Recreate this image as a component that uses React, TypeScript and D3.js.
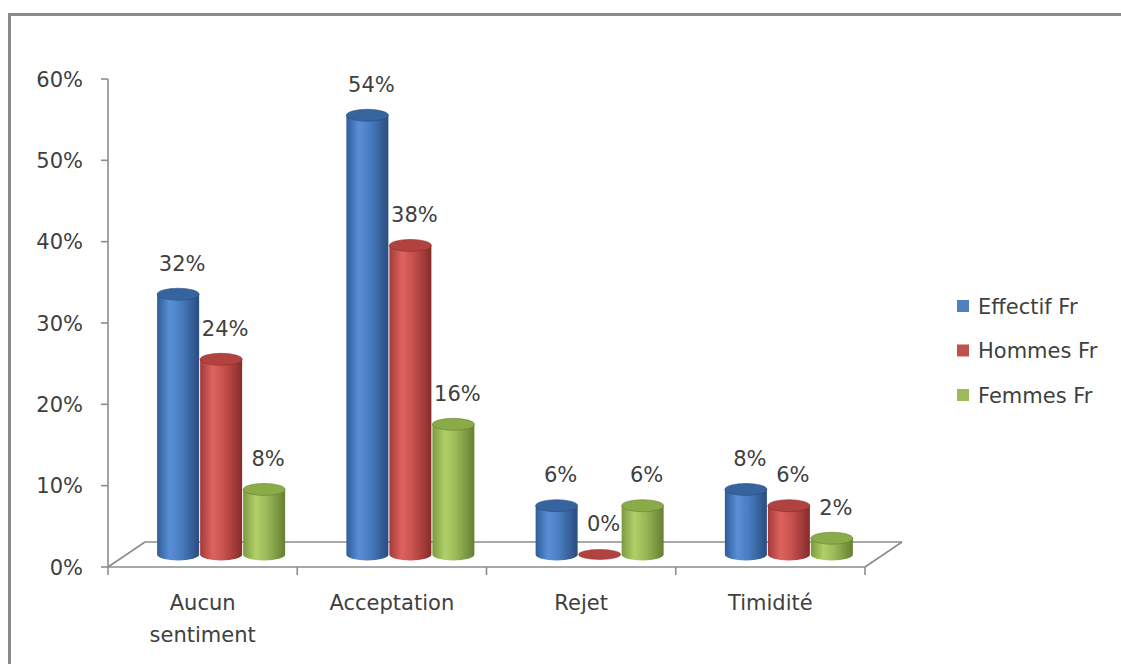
import React from "react";
import * as d3 from "d3";

const categories = ["Aucun sentiment", "Acceptation", "Rejet", "Timidité"];
const seriesNames = ["Effectif Fr", "Hommes Fr", "Femmes Fr"];
const effectif = [0.32, 0.54, 0.06, 0.08];
const hommes = [0.24, 0.38, 0.0, 0.06];
const femmes = [0.08, 0.16, 0.06, 0.02];
const yTicks = [0, 0.1, 0.2, 0.3, 0.4, 0.5, 0.6];

const seriesValues = [effectif, hommes, femmes];
const palettes = [
  { id: "gBlue", left: "#2f5c9a", hi: "#5a8fd6", mid: "#4a7ec2", right: "#2a4c80", top: "#36649f", legend: "#4f81bd" },
  { id: "gRed", left: "#a33b39", hi: "#de635f", mid: "#c9514e", right: "#862c2a", top: "#b2423f", legend: "#c0504d" },
  { id: "gGreen", left: "#7c9a3e", hi: "#b0d06a", mid: "#9bbb59", right: "#667f31", top: "#8aab48", legend: "#9bbb59" },
];

const FONT = "'DejaVu Sans', sans-serif";
const TEXT = "#404040";

export default function App() {
  const W = 1121, H = 664;
  const x0 = 108, x1 = 865;
  const depthX = 37, depthY = -25;
  const y = d3.scaleLinear().domain([0, 0.6]).range([567, 79]);
  const xBand = d3.scaleBand<string>().domain(categories).range([x0, x1]);
  const barW = 43;
  const rx = 21, ry = 6;
  const midDX = depthX / 2, midDY = depthY / 2;
  const yBar = (v: number) => y(v) + midDY;

  const cyl = (cx: number, v: number, si: number, key: string) => {
    const p = palettes[si];
    const top = yBar(v);
    const bot = yBar(0);
    if (v <= 0.0001) {
      return <ellipse key={key} cx={cx} cy={bot} rx={rx} ry={ry - 1} fill={p.top} stroke={p.right} strokeWidth={0.5} />;
    }
    const body = `M${cx - rx},${top} L${cx - rx},${bot} A${rx},${ry} 0 0 0 ${cx + rx},${bot} L${cx + rx},${top} Z`;
    return (
      <g key={key}>
        <path d={body} fill={`url(#${p.id})`} />
        <ellipse cx={cx} cy={top} rx={rx} ry={ry} fill={p.top} stroke={p.right} strokeWidth={0.6} />
      </g>
    );
  };

  const floorFront = 567;
  return (
    <div style={{ position: "absolute", left: 0, top: 0 }}>
      <svg width={W} height={H} style={{ display: "block", background: "#fff" }}>
        <defs>
          {palettes.map((p) => (
            <linearGradient key={p.id} id={p.id} x1="0" y1="0" x2="1" y2="0">
              <stop offset="0%" stopColor={p.left} />
              <stop offset="30%" stopColor={p.hi} />
              <stop offset="55%" stopColor={p.mid} />
              <stop offset="100%" stopColor={p.right} />
            </linearGradient>
          ))}
        </defs>
        <rect x={9.5} y={14.5} width={1200} height={800} fill="none" stroke="#8a8a8a" strokeWidth={3} />

        {/* floor */}
        <g stroke="#8c8c8c" strokeWidth={1.6} fill="none">
          <line x1={x0} y1={floorFront} x2={x1} y2={floorFront} />
          <line x1={x0 + depthX} y1={floorFront + depthY} x2={x1 + depthX} y2={floorFront + depthY} />
          <line x1={x0} y1={floorFront} x2={x0 + depthX} y2={floorFront + depthY} />
          <line x1={x1} y1={floorFront} x2={x1 + depthX} y2={floorFront + depthY} />
          <line x1={x0} y1={y(0.6)} x2={x0} y2={floorFront} />
          {yTicks.map((t) => (
            <line key={t} x1={x0 - 7} y1={y(t)} x2={x0} y2={y(t)} />
          ))}
          {[...categories.map((c) => xBand(c)!), x1].map((xx, i) => (
            <line key={i} x1={xx} y1={floorFront} x2={xx} y2={floorFront + 8} />
          ))}
        </g>

        {/* y tick labels */}
        {yTicks.map((t) => (
          <text key={t} x={x0 - 25} y={y(t)} dy="0.36em" textAnchor="end" fontFamily={FONT} fontSize={21} fill={TEXT}>
            {d3.format(".0%")(t)}
          </text>
        ))}

        {/* bars */}
        {categories.map((c, ci) => {
          const center = xBand(c)! + xBand.bandwidth() / 2 + midDX;
          return (
            <g key={c}>
              {seriesValues.map((vals, si) => cyl(center + (si - 1) * barW, vals[ci], si, `${c}-${si}`))}
            </g>
          );
        })}

        {/* data labels */}
        {categories.map((c, ci) => {
          const center = xBand(c)! + xBand.bandwidth() / 2 + midDX;
          return seriesValues.map((vals, si) => (
            <text
              key={`${c}-l${si}`}
              x={center + (si - 1) * barW + 4}
              y={yBar(vals[ci]) - 31}
              dy="0.36em"
              textAnchor="middle"
              fontFamily={FONT}
              fontSize={21}
              fill={TEXT}
            >
              {d3.format(".0%")(vals[ci])}
            </text>
          ));
        })}

        {/* category labels */}
        {categories.map((c) => {
          const cx = xBand(c)! + xBand.bandwidth() / 2;
          const words = c === "Aucun sentiment" ? ["Aucun", "sentiment"] : [c];
          return (
            <text key={c} x={cx} y={610} textAnchor="middle" fontFamily={FONT} fontSize={21} fill={TEXT}>
              {words.map((w, i) => (
                <tspan key={i} x={cx} dy={i === 0 ? 0 : 32}>
                  {w}
                </tspan>
              ))}
            </text>
          );
        })}

        {/* legend */}
        {seriesNames.map((s, i) => {
          const cy = 306 + i * 44.5;
          return (
            <g key={s}>
              <rect x={957} y={cy - 6} width={12} height={12} fill={palettes[i].legend} />
              <text x={978} y={cy} dy="0.36em" fontFamily={FONT} fontSize={21} fill={TEXT}>
                {s}
              </text>
            </g>
          );
        })}
      </svg>
    </div>
  );
}
